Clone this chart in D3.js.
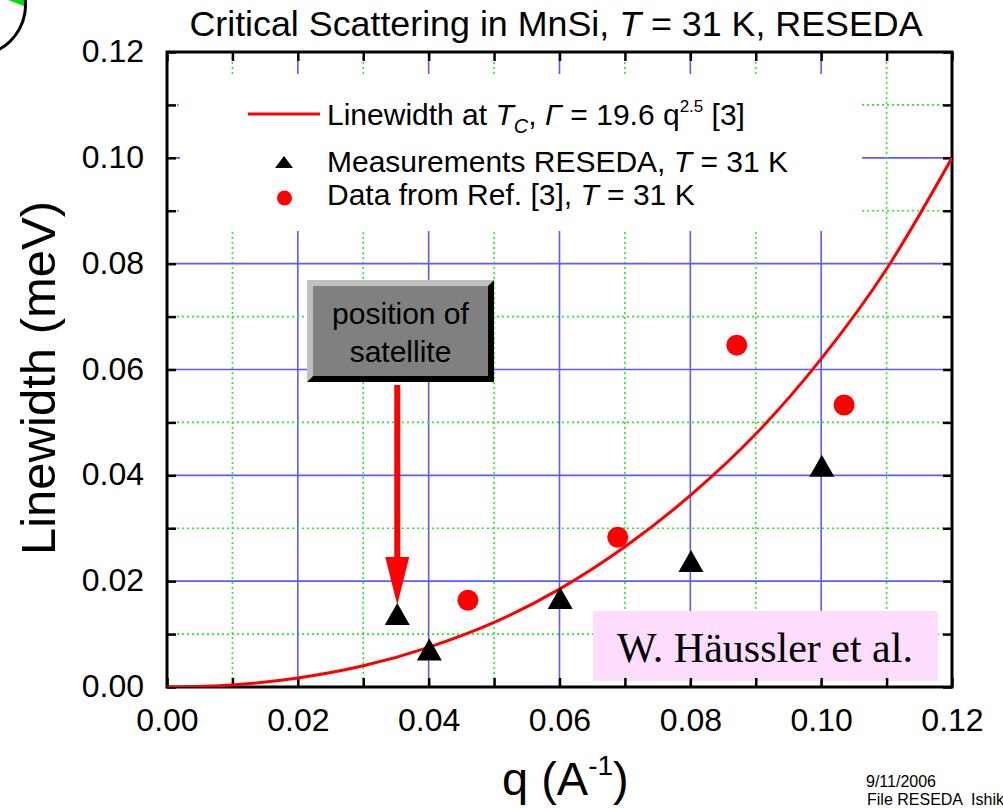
<!DOCTYPE html>
<html><head><meta charset="utf-8">
<script src="https://cdn.jsdelivr.net/npm/d3@7/dist/d3.min.js"></script>
<style>
html,body{margin:0;padding:0;background:#fff;}
svg{display:block;}
text{font-family:"Liberation Sans",Arial,sans-serif;fill:#000;}
</style></head>
<body>
<svg id="chart" width="1003" height="808"></svg>
<script>
// ---- data ----
const xTickLabels = ["0.00","0.02","0.04","0.06","0.08","0.10","0.12"];
const yTickLabels = ["0.00","0.02","0.04","0.06","0.08","0.10","0.12"];
const minorTicks = [0,0.01,0.02,0.03,0.04,0.05,0.06,0.07,0.08,0.09,0.10,0.11,0.12];

const fitQ = [0,0.01,0.02,0.03,0.04,0.05,0.06,0.07,0.08,0.09,0.10,0.11,0.12];
const fitW = [0,0.0004,0.0017,0.0040,0.0075,0.0122,0.0185,0.0265,0.0362,0.0478,0.0620,0.0790,0.1000];

const resedaQ = [0.0352,0.0401,0.0601,0.0801,0.1001];
const resedaW = [0.0138,0.0071,0.0168,0.0238,0.0418];

const refQ = [0.0460,0.0689,0.0871,0.1035];
const refW = [0.0164,0.0283,0.0646,0.0533];

const svg = d3.select("#chart");
const L = 167, R = 952, T = 52, B = 687;
const x = d3.scaleLinear().domain([0,0.12]).range([L,R]);
const y = d3.scaleLinear().domain([0,0.12]).range([B,T]);

// decorative arc top-left
svg.append("path").attr("d","M8,0 L27,0 L24,6 Z").attr("fill","#00e000");
svg.append("path").attr("d", d3.arc()({innerRadius:49,outerRadius:52,startAngle:Math.PI*0.45,endAngle:Math.PI*0.86}))
  .attr("transform","translate(-25,5)").attr("fill","#000");

// grid
const g = svg.append("g");
minorTicks.forEach((v,i)=>{
  const major = i%2===0;
  if(v>0 && v<0.12){
    g.append("line").attr("x1",x(v)).attr("x2",x(v)).attr("y1",T).attr("y2",B)
      .attr("stroke", major?"#5a5aff":"#22ee22").attr("stroke-width", 1.6)
      .attr("stroke-dasharray", major?null:"2,3");
    g.append("line").attr("y1",y(v)).attr("y2",y(v)).attr("x1",L).attr("x2",R)
      .attr("stroke", major?"#5a5aff":"#22ee22").attr("stroke-width", 1.6)
      .attr("stroke-dasharray", major?null:"2,3");
  }
});

// legend background (covers grid)
svg.append("rect").attr("x",180).attr("y",74).attr("width",682).attr("height",157).attr("fill","#fff");

// pink credit box
svg.append("rect").attr("x",593).attr("y",611).attr("width",345).attr("height",70).attr("fill","#fddcfd");
svg.append("text").attr("x",765).attr("y",662).attr("text-anchor","middle")
  .style("font-family","'Liberation Serif','Times New Roman',serif").style("font-size","42px")
  .text("W. Häussler et al.");

// axes with inward ticks
const fmt = d=>{const i=Math.round(d/0.02*1e6)/1e6; return Number.isInteger(i)?xTickLabels[i]:"";};
const fmtY = d=>{const i=Math.round(d/0.02*1e6)/1e6; return Number.isInteger(i)?yTickLabels[i]:"";};
const axB = svg.append("g").attr("transform",`translate(0,${B})`)
  .call(d3.axisBottom(x).tickValues(minorTicks).tickSize(-9).tickSizeOuter(0).tickPadding(14).tickFormat(fmt));
const axT = svg.append("g").attr("transform",`translate(0,${T})`)
  .call(d3.axisTop(x).tickValues(minorTicks).tickSize(-9).tickSizeOuter(0).tickFormat(""));
const axL = svg.append("g").attr("transform",`translate(${L},0)`)
  .call(d3.axisLeft(y).tickValues(minorTicks).tickSize(-9).tickSizeOuter(0).tickPadding(23).tickFormat(fmtY));
const axR = svg.append("g").attr("transform",`translate(${R},0)`)
  .call(d3.axisRight(y).tickValues(minorTicks).tickSize(-9).tickSizeOuter(0).tickFormat(""));
[axB,axT,axL,axR].forEach(a=>{
  a.select(".domain").remove();
  a.selectAll(".tick line").attr("stroke","#000").attr("stroke-width",2.5);
  a.selectAll(".tick text").style("font-family","'Liberation Sans',Arial,sans-serif").style("font-size","32px").attr("fill","#000");
});
axB.selectAll(".tick text").attr("dy","0.95em");
axL.selectAll(".tick text").attr("dy","0.3em");
svg.append("rect").attr("x",L).attr("y",T).attr("width",R-L).attr("height",B-T)
  .attr("fill","none").attr("stroke","#000").attr("stroke-width",3);

// fit curve
const fitData = fitQ.map((q,i)=>[q,fitW[i]]);
svg.append("clipPath").attr("id","pc").append("rect").attr("x",L).attr("y",T).attr("width",R-L).attr("height",B-T);
svg.append("path").datum(fitData).attr("clip-path","url(#pc)")
  .attr("d", d3.line().x(d=>x(d[0])).y(d=>y(d[1])).curve(d3.curveMonotoneX))
  .attr("fill","none").attr("stroke","#ff0000").attr("stroke-width",3);

// position of satellite box + arrow
const bx=307, by=280, bw=187, bh=102, bv=6;
svg.append("polygon").attr("points",`${bx},${by} ${bx+bw},${by} ${bx+bw-bv},${by+bv} ${bx+bv},${by+bh-bv} ${bx},${by+bh}`).attr("fill","#c0c0c0");
svg.append("polygon").attr("points",`${bx+bw},${by} ${bx+bw},${by+bh} ${bx},${by+bh} ${bx+bv},${by+bh-bv} ${bx+bw-bv},${by+bv}`).attr("fill","#000");
svg.append("rect").attr("x",bx+bv).attr("y",by+bv).attr("width",bw-2*bv).attr("height",bh-2*bv).attr("fill","#808080");
svg.append("text").attr("x",bx+bw/2).attr("y",by+44).attr("text-anchor","middle").style("font-size","30px").text("position of");
svg.append("text").attr("x",bx+bw/2).attr("y",by+82).attr("text-anchor","middle").style("font-size","30px").text("satellite");
const ax = x(resedaQ[0]);
svg.append("rect").attr("x",ax-3).attr("y",385).attr("width",6).attr("height",175).attr("fill","#ff0000");
svg.append("polygon").attr("points",`${ax-12},557 ${ax+12},557 ${ax},605`).attr("fill","#ff0000");

// markers
const tri = (cx,cy,w,h)=>`${cx-w/2},${cy+h/2} ${cx+w/2},${cy+h/2} ${cx},${cy-h/2}`;
svg.append("g").selectAll("polygon").data(resedaQ.map((q,i)=>[q,resedaW[i]])).join("polygon")
  .attr("points",d=>tri(x(d[0]),y(d[1]),25,22)).attr("fill","#000");
svg.append("g").selectAll("circle").data(refQ.map((q,i)=>[q,refW[i]])).join("circle")
  .attr("cx",d=>x(d[0])).attr("cy",d=>y(d[1])).attr("r",10.5).attr("fill","#ff0000");

// legend
svg.append("line").attr("x1",248).attr("x2",320).attr("y1",114).attr("y2",114).attr("stroke","#ff0000").attr("stroke-width",3);
svg.append("polygon").attr("points",tri(284,162,18,12)).attr("fill","#000");
svg.append("circle").attr("cx",284.5).attr("cy",198).attr("r",7.5).attr("fill","#ff0000");
const lt1 = svg.append("text").attr("x",327).attr("y",125).style("font-size","30px");
lt1.append("tspan").text("Linewidth at ");
lt1.append("tspan").style("font-style","italic").text("T");
lt1.append("tspan").style("font-style","italic").style("font-size","20px").attr("dy",8).text("C");
lt1.append("tspan").attr("dy",-8).text(", ");
lt1.append("tspan").style("font-style","italic").text("Γ");
lt1.append("tspan").text(" = 19.6 q");
lt1.append("tspan").style("font-size","17px").attr("dy",-13).text("2.5");
lt1.append("tspan").attr("dy",13).text(" [3]");
const lt2 = svg.append("text").attr("x",327).attr("y",172).style("font-size","30px");
lt2.append("tspan").text("Measurements RESEDA, ");
lt2.append("tspan").style("font-style","italic").text("T");
lt2.append("tspan").text(" = 31 K");
const lt3 = svg.append("text").attr("x",327).attr("y",205).style("font-size","30px");
lt3.append("tspan").text("Data from Ref. [3], ");
lt3.append("tspan").style("font-style","italic").text("T");
lt3.append("tspan").text(" = 31 K");

// title
const tt = svg.append("text").attr("x",556).attr("y",36).attr("text-anchor","middle").style("font-size","35.8px");
tt.append("tspan").text("Critical Scattering in MnSi, ");
tt.append("tspan").style("font-style","italic").text("T");
tt.append("tspan").text(" = 31 K, RESEDA");

// axis titles
svg.append("text").attr("transform","translate(55,378) rotate(-90)").attr("text-anchor","middle").style("font-size","49px").text("Linewidth (meV)");
const xt = svg.append("text").attr("x",502).attr("y",795).style("font-size","47px");
xt.append("tspan").text("q (A");
xt.append("tspan").style("font-size","28px").attr("dy",-20).text("-1");
xt.append("tspan").attr("dy",20).text(")");

// footer
svg.append("text").attr("x",866).attr("y",787).style("font-size","16px").text("9/11/2006");
svg.append("text").attr("x",867).attr("y",805).style("font-size","16px").attr("xml:space","preserve").text("File RESEDA  Ishik");
</script>
</body></html>
